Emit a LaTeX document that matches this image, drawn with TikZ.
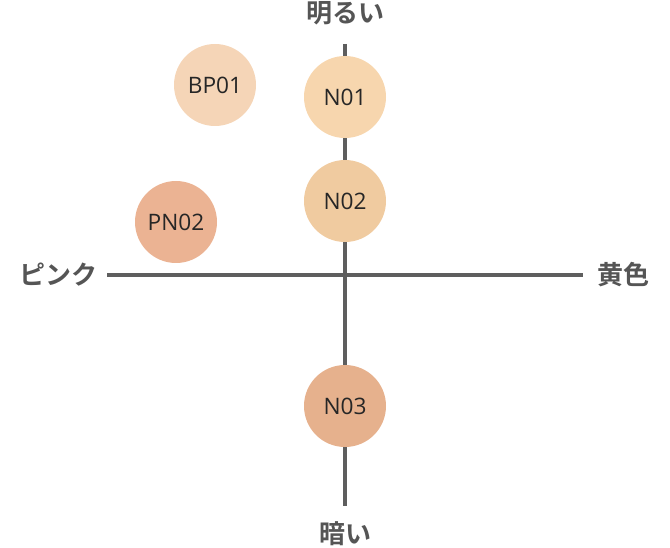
\documentclass[tikz,border=0pt]{standalone}
\usepackage{fontspec}
\setmainfont{Open Sans}
\newfontfamily\cjk{Noto Sans CJK JP}[BoldFont={Noto Sans CJK JP Bold}]
\definecolor{axisgray}{HTML}{5E5E5E}
\definecolor{labelgray}{HTML}{555555}
\definecolor{cBP}{HTML}{F5D5B7}
\definecolor{cNa}{HTML}{F7D6AE}
\definecolor{cNb}{HTML}{F0CBA0}
\definecolor{cPN}{HTML}{EBB393}
\definecolor{cNc}{HTML}{E6B18D}
\begin{document}
\begin{tikzpicture}[x=0.75pt,y=-0.75pt,
  axislabel/.style={font=\cjk\bfseries\fontsize{19.5}{21}\selectfont, text=labelgray, inner sep=0pt},
  shade/.style={circle, minimum size=61.5pt, inner sep=0pt, text=black!85, font=\fontsize{17}{19}\selectfont},
  axisline/.style={draw=axisgray, line width=2.3pt}]
\useasboundingbox (0,0) rectangle (670,548);
\coordinate (top) at (345,44);
\coordinate (bot) at (345,506);
\coordinate (lft) at (107,275);
\coordinate (rgt) at (583,275);
\draw[axisline] (top) -- (bot);
\draw[axisline] (lft) -- (rgt);
\node[axislabel] (lbright) at (345,13) {明るい};
\node[axislabel] (ldark) at (345,534) {暗い};
\node[axislabel] (lpink) at (58,275) {ピンク};
\node[axislabel] (lyellow) at (623,275) {黄色};
\node[shade, fill=cBP] (bp01) at (215,85) {BP01};
\node[shade, fill=cNa] (n01) at (345,97) {N01};
\node[shade, fill=cNb] (n02) at (345,201) {N02};
\node[shade, fill=cPN] (pn02) at (176,222) {PN02};
\node[shade, fill=cNc] (n03) at (345,406) {N03};
\end{tikzpicture}
\end{document}
